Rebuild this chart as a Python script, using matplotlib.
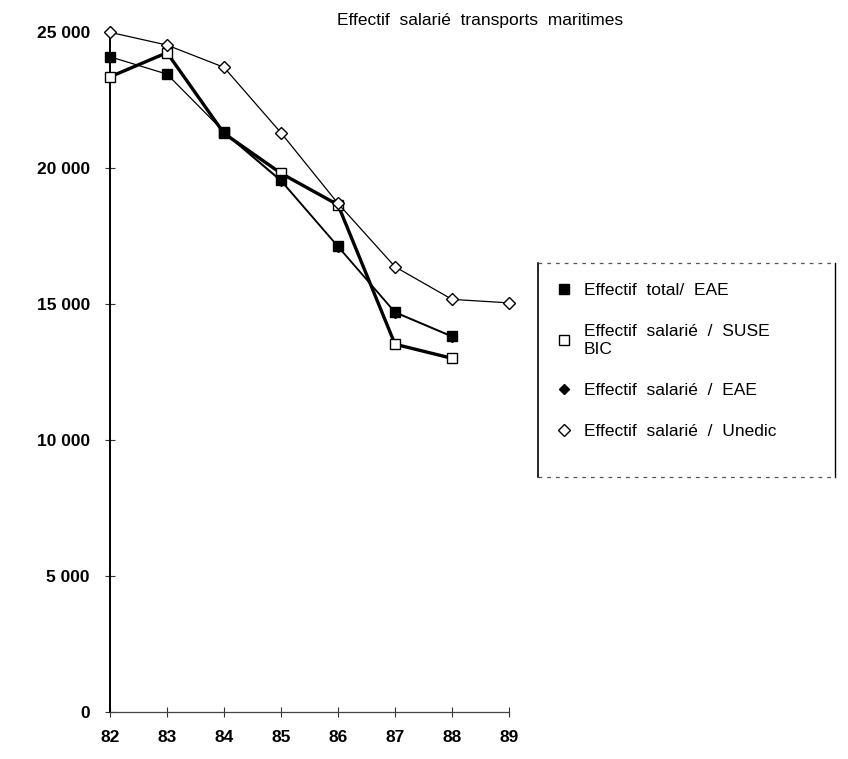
import matplotlib
matplotlib.use("Agg")
import matplotlib.pyplot as plt
from matplotlib.lines import Line2D

plt.rcParams['font.family'] = ['Liberation Sans', 'DejaVu Sans']

years = [82, 83, 84, 85, 86, 87, 88, 89]
year_labels = ["82", "83", "84", "85", "86", "87", "88", "89"]

total_eae_years = [82, 83, 84, 85, 86, 87, 88]
total_eae = [24100, 23460, 21340, 19560, 17130, 14710, 13820]

suse_years = [82, 83, 84, 85, 86, 87, 88]
suse_bic = [23360, 24250, 21280, 19810, 18650, 13520, 13000]

sal_eae_years = [84, 85, 86, 87, 88]
sal_eae = [21300, 19520, 17100, 14680, 13790]

unedic_years = [82, 83, 84, 85, 86, 87, 88, 89]
unedic = [25000, 24530, 23710, 21300, 18700, 16370, 15170, 15040]

y_ticks = [0, 5000, 10000, 15000, 20000, 25000]
y_tick_labels = ["0", "5 000", "10 000", "15 000", "20 000", "25 000"]

title = "Effectif  salarié  transports  maritimes"
labels = ["Effectif  total/  EAE", "Effectif  salarié  /  SUSE\nBIC",
          "Effectif  salarié  /  EAE", "Effectif  salarié  /  Unedic"]

W, H = 848, 759
fig = plt.figure(figsize=(W / 100, H / 100), dpi=100)
ax = fig.add_axes([110 / W, 1 - 711.5 / H, (509 - 110) / W, (711.5 - 32.3) / H])

ax.plot(suse_years, suse_bic, color='black', lw=2.4, marker='s', ms=7,
        mfc='white', mec='black', mew=1.0, clip_on=False, zorder=3)
ax.plot(total_eae_years, total_eae, color='black', lw=0.9, marker='s', ms=6.5,
        mfc='black', mec='black', clip_on=False, zorder=4)
ax.plot(sal_eae_years, sal_eae, color='black', lw=0.9, marker='D', ms=5.5,
        mfc='black', mec='black', clip_on=False, zorder=4)
ax.plot(unedic_years, unedic, color='black', lw=0.9, marker='D', ms=6.5,
        mfc='white', mec='black', mew=1.0, clip_on=False, zorder=5)

ax.set_xlim(82, 89)
ax.set_ylim(0, 25000)
ax.set_xticks(years)
ax.set_xticklabels(year_labels)
ax.set_yticks(y_ticks)
ax.set_yticklabels(y_tick_labels)

for s in ['top', 'right']:
    ax.spines[s].set_visible(False)
ax.spines['left'].set_linewidth(1.4)
ax.spines['bottom'].set_linewidth(0.9)
ax.spines['bottom'].set_color('#444444')

ax.tick_params(axis='both', direction='inout', length=7, width=0.8,
               labelsize=12.5, color='#333333')
ax.tick_params(axis='y', pad=11)
ax.tick_params(axis='x', pad=10)
for t in ax.get_xticklabels() + ax.get_yticklabels():
    t.set_fontweight('bold')

fig.text(480 / W, 1 - 20 / H, title, ha='center', va='center', fontsize=12.5)

# legend frame
lx0, lx1, ly0, ly1 = 538, 835, 263, 477
fig.add_artist(Line2D([lx0 / W, lx0 / W], [1 - ly0 / H, 1 - ly1 / H],
                      transform=fig.transFigure, color='black', lw=1.2))
fig.add_artist(Line2D([lx1 / W, lx1 / W], [1 - ly0 / H, 1 - ly1 / H],
                      transform=fig.transFigure, color='black', lw=1.0))
fig.add_artist(Line2D([lx0 / W, lx1 / W], [1 - ly0 / H, 1 - ly0 / H],
                      transform=fig.transFigure, color='#555555', lw=0.9,
                      ls=(0, (3, 4))))
fig.add_artist(Line2D([lx0 / W, lx1 / W], [1 - ly1 / H, 1 - ly1 / H],
                      transform=fig.transFigure, color='#555555', lw=0.9,
                      ls=(0, (3, 4))))

handles = [
    Line2D([], [], ls='none', marker='s', ms=7, mfc='black', mec='black'),
    Line2D([], [], ls='none', marker='s', ms=7, mfc='white', mec='black'),
    Line2D([], [], ls='none', marker='D', ms=5, mfc='black', mec='black'),
    Line2D([], [], ls='none', marker='D', ms=6, mfc='white', mec='black'),
]
leg = fig.legend(handles, labels, loc='upper left',
                 bbox_to_anchor=(555 / W, 1 - 283 / H),
                 frameon=False, fontsize=12.5, labelspacing=1.5,
                 handlelength=1.0, handletextpad=0.65,
                 borderpad=0, borderaxespad=0)

fig.savefig("out.png", dpi=100)
